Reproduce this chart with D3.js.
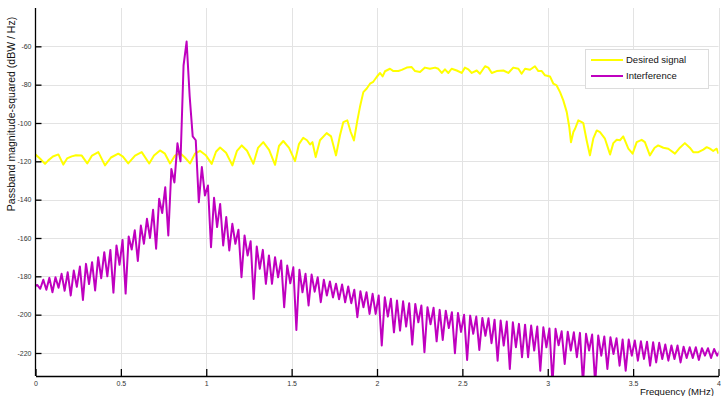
<!DOCTYPE html>
<html>
<head>
<meta charset="utf-8">
<script src="https://cdn.jsdelivr.net/npm/d3@7"></script>
<style>
  html, body { margin: 0; padding: 0; background: #fff; }
  svg { display: block; font-family: "Liberation Sans", Arial, Helvetica, sans-serif; }
</style>
</head>
<body>
<svg id="chart" width="721" height="396"></svg>
<script>
// ---- data ---------------------------------------------------------------
const seriesNames = ["Desired signal", "Interference"];
const xTickValues = [0, 0.5, 1, 1.5, 2, 2.5, 3, 3.5, 4];
const yTickValues = [-220, -200, -180, -160, -140, -120, -100, -80, -60];

// Desired signal: frequency (MHz) and passband PSD (dBW/Hz)
const desiredFreq = [
  0.000, 0.026, 0.056, 0.075, 0.102, 0.134, 0.163, 0.185, 0.212, 0.237,
  0.271, 0.303, 0.331, 0.368, 0.407, 0.442, 0.485, 0.512, 0.543, 0.583,
  0.622, 0.666, 0.694, 0.729, 0.758, 0.788, 0.817, 0.846, 0.875, 0.905,
  0.934, 0.963, 0.999, 1.032, 1.057, 1.081, 1.116, 1.153, 1.180, 1.208,
  1.239, 1.276, 1.303, 1.334, 1.368, 1.403, 1.426, 1.451, 1.485, 1.520,
  1.543, 1.568, 1.590, 1.608, 1.622, 1.641, 1.666, 1.705, 1.731, 1.760,
  1.783, 1.803, 1.826, 1.846, 1.865, 1.885, 1.900, 1.920, 1.940, 1.959,
  1.978, 1.998, 2.018, 2.033, 2.047, 2.076, 2.096, 2.125, 2.145, 2.174,
  2.203, 2.223, 2.252, 2.281, 2.310, 2.340, 2.359, 2.379, 2.398, 2.418,
  2.437, 2.467, 2.496, 2.515, 2.535, 2.555, 2.584, 2.603, 2.623, 2.633,
  2.652, 2.672, 2.701, 2.740, 2.769, 2.798, 2.828, 2.847, 2.867, 2.896,
  2.925, 2.945, 2.965, 2.984, 3.013, 3.033, 3.052, 3.072, 3.091, 3.111,
  3.126, 3.136, 3.150, 3.160, 3.179, 3.199, 3.208, 3.228, 3.247, 3.267,
  3.287, 3.306, 3.335, 3.365, 3.384, 3.404, 3.423, 3.442, 3.472, 3.497,
  3.521, 3.550, 3.569, 3.598, 3.626, 3.647, 3.677, 3.706, 3.745, 3.774,
  3.803, 3.832, 3.852, 3.882, 3.911, 3.931, 3.950, 3.969, 3.989, 4.000
];
const desiredDb = [
  -116.5, -118.5, -121.3, -119.5, -117.5, -116.4, -121.7, -118.5, -117.4, -116.8,
  -117.0, -121.1, -117.0, -115.2, -122.1, -118.0, -116.0, -117.5, -121.1, -117.0,
  -115.2, -121.1, -117.0, -114.3, -116.0, -121.1, -117.0, -115.7, -118.0, -121.1,
  -116.0, -114.5, -117.0, -121.3, -115.0, -112.8, -115.5, -122.1, -114.5, -111.7,
  -114.5, -121.3, -113.0, -110.0, -114.0, -121.8, -112.0, -109.4, -113.0, -119.9,
  -111.0, -107.7, -109.0, -111.2, -110.0, -117.8, -109.0, -105.3, -107.0, -116.9,
  -106.5, -99.5, -98.6, -104.7, -109.1, -98.6, -91.7, -83.9, -82.0, -79.5,
  -78.5, -76.0, -73.9, -75.7, -73.0, -71.7, -72.9, -72.9, -72.3, -71.1,
  -70.8, -72.9, -73.4, -71.1, -71.7, -71.1, -71.7, -73.9, -72.0, -73.9,
  -71.7, -72.6, -73.9, -71.1, -72.0, -73.9, -72.6, -74.3, -71.7, -70.4,
  -71.1, -73.9, -72.9, -72.6, -73.9, -71.1, -71.7, -74.3, -71.7, -72.2,
  -70.4, -72.9, -72.9, -75.1, -75.7, -79.5, -80.4, -83.9, -88.2, -94.2,
  -102.1, -110.0, -104.7, -103.0, -98.6, -99.5, -100.0, -109.1, -116.9, -108.0,
  -103.9, -104.8, -108.2, -116.4, -110.5, -108.7, -109.0, -107.0, -113.4, -116.0,
  -110.0, -108.8, -110.0, -116.9, -112.9, -111.7, -112.9, -113.4, -116.0, -112.9,
  -110.5, -112.9, -115.2, -115.2, -113.9, -112.6, -113.4, -114.6, -113.4, -116.0
];

// Interference: PSD (dBW/Hz) on a uniform frequency grid
const interferenceStartMHz = -0.0079;
const interferenceStepMHz = 1 / 56;
const interferenceDb = [
  -185.5, -184.5, -186.5, -181.8, -187.0, -180.8, -188.3, -180.5, -186.0, -178.7,
  -187.5, -177.9, -190.0, -177.0, -185.5, -174.9, -192.3, -173.5, -184.0, -172.6,
  -187.4, -170.0, -181.0, -167.4, -180.0, -166.2, -188.5, -163.9, -174.0, -161.0,
  -189.0, -159.2, -166.0, -156.0, -172.0, -153.5, -163.0, -150.0, -160.0, -145.3,
  -165.6, -139.5, -147.0, -133.5, -158.7, -124.0, -131.0, -110.6, -120.0, -70.0,
  -57.5, -86.0, -107.0, -109.0, -141.3, -123.0, -137.8, -132.6, -164.8, -139.0,
  -154.3, -142.2, -163.9, -149.1, -166.5, -152.6, -163.0, -155.7, -180.5, -158.7,
  -169.1, -161.7, -191.8, -164.4, -176.1, -166.2, -183.9, -169.1, -183.9, -170.0,
  -180.5, -171.7, -196.1, -174.4, -183.6, -175.3, -208.0, -176.6, -188.3, -178.7,
  -195.2, -179.1, -188.0, -180.5, -193.5, -181.8, -190.0, -182.7, -191.0, -183.9,
  -192.0, -184.3, -193.5, -185.3, -194.0, -187.0, -201.3, -187.8, -196.1, -188.3,
  -199.6, -189.1, -199.6, -190.0, -216.1, -190.9, -201.0, -191.7, -209.2, -192.6,
  -208.3, -193.0, -206.2, -194.0, -215.6, -194.4, -204.0, -195.2, -219.6, -196.1,
  -205.0, -196.4, -213.9, -197.5, -213.2, -197.9, -207.0, -198.7, -220.1, -199.1,
  -209.0, -200.1, -223.6, -200.5, -210.0, -201.0, -218.4, -201.7, -211.0, -201.9,
  -214.9, -202.6, -224.0, -203.1, -216.1, -203.6, -228.3, -204.0, -217.0, -204.8,
  -222.2, -205.2, -222.2, -205.7, -218.7, -206.2, -229.2, -206.6, -217.0, -207.2,
  -236.0, -207.4, -216.0, -208.7, -225.7, -208.9, -218.7, -209.2, -222.2, -209.5,
  -236.0, -210.0, -218.7, -210.4, -236.0, -210.9, -221.4, -211.4, -228.3, -211.8,
  -220.5, -212.3, -226.6, -213.0, -229.2, -213.0, -221.4, -213.5, -224.0, -213.9,
  -223.1, -214.1, -226.6, -214.4, -224.9, -214.7, -223.1, -215.6, -224.0, -216.1,
  -223.1, -216.1, -224.9, -216.7, -222.6, -217.0, -222.6, -217.0, -223.6, -217.5,
  -221.4, -217.5, -222.6, -217.9, -221.4, -218.5
];

const seriesColors = ["#ffff00", "#bf00bf"];

// ---- layout -------------------------------------------------------------
const W = 721, H = 396;
const plot = { left: 35.5, right: 718.5, top: 8, bottom: 376 };

const svg = d3.select("#chart");

const x = d3.scaleLinear().domain([0, 4]).range([plot.left, plot.right]);
const y = d3.scaleLinear().domain([-232, -40]).range([plot.bottom, plot.top]);

// grid
const grid = svg.append("g").attr("stroke", "#e3e3e3").attr("stroke-width", 1);
grid.selectAll("line.v").data(xTickValues.filter(d => d > 0)).join("line")
  .attr("class", "v")
  .attr("x1", d => Math.round(x(d)) + 0.5).attr("x2", d => Math.round(x(d)) + 0.5)
  .attr("y1", plot.top).attr("y2", plot.bottom);
grid.selectAll("line.h").data(yTickValues).join("line")
  .attr("class", "h")
  .attr("x1", plot.left).attr("x2", plot.right)
  .attr("y1", d => Math.round(y(d)) + 0.5).attr("y2", d => Math.round(y(d)) + 0.5);

// clip for traces
svg.append("defs").append("clipPath").attr("id", "plotClip")
  .append("rect")
  .attr("x", plot.left).attr("y", plot.top)
  .attr("width", plot.right - plot.left).attr("height", plot.bottom - plot.top);

const traces = svg.append("g").attr("clip-path", "url(#plotClip)");

const desiredPts = desiredFreq.map((f, i) => [f, desiredDb[i]]);
const interferencePts = interferenceDb.map((v, i) => [interferenceStartMHz + i * interferenceStepMHz, v]);

const line = d3.line().x(d => x(d[0])).y(d => y(d[1])).curve(d3.curveLinear);

traces.append("path")
  .attr("d", line(desiredPts))
  .attr("fill", "none")
  .attr("stroke", seriesColors[0])
  .attr("stroke-width", 2)
  .attr("stroke-linejoin", "round");

traces.append("path")
  .attr("d", line(interferencePts))
  .attr("fill", "none")
  .attr("stroke", seriesColors[1])
  .attr("stroke-width", 2)
  .attr("stroke-linejoin", "round");

// axes
const fmtX = d => String(d);
const xAxis = d3.axisBottom(x).tickValues(xTickValues).tickFormat(fmtX)
  .tickSizeInner(-7).tickSizeOuter(0).tickPadding(5);
const yAxis = d3.axisLeft(y).tickValues(yTickValues).tickFormat(d => String(d))
  .tickSizeInner(-6).tickSizeOuter(0).tickPadding(4);

const gx = svg.append("g").attr("transform", `translate(0,${plot.bottom})`).call(xAxis);
const gy = svg.append("g").attr("transform", `translate(${plot.left},0)`).call(yAxis);

[gx, gy].forEach(g => {
  g.select(".domain").attr("stroke", "#000").attr("stroke-width", 1.3);
  g.selectAll(".tick line").attr("stroke", "#000").attr("stroke-width", 1.3);
  g.selectAll(".tick text").attr("fill", "#333").attr("font-size", 7)
    .attr("font-family", "'Liberation Sans', Arial, sans-serif");
});
gy.select(".domain").attr("d", `M0,${plot.top}V${plot.bottom}`);

// axis titles
svg.append("text")
  .attr("transform", `translate(12,114) rotate(-90)`)
  .attr("text-anchor", "middle")
  .attr("dominant-baseline", "middle")
  .attr("font-size", 10.5)
  .attr("fill", "#111")
  .text("Passband magnitude-squared (dBW / Hz)");

svg.append("text")
  .attr("x", 714).attr("y", 394.5)
  .attr("text-anchor", "end")
  .attr("font-size", 9.6)
  .attr("fill", "#111")
  .text("Frequency (MHz)");

// legend
const lg = svg.append("g").attr("transform", "translate(585.5,49.5)");
lg.append("rect").attr("width", 123).attr("height", 39)
  .attr("fill", "#fff").attr("stroke", "#dcdcdc").attr("stroke-width", 1);
seriesNames.forEach((name, i) => {
  const cy = 10.5 + i * 16;
  lg.append("line").attr("x1", 5.5).attr("x2", 37.5).attr("y1", cy).attr("y2", cy)
    .attr("stroke", seriesColors[i]).attr("stroke-width", 2);
  lg.append("text").attr("x", 40.5).attr("y", cy).attr("dy", "0.35em")
    .attr("font-size", 9.5).attr("fill", "#111").text(name);
});
</script>
</body>
</html>
